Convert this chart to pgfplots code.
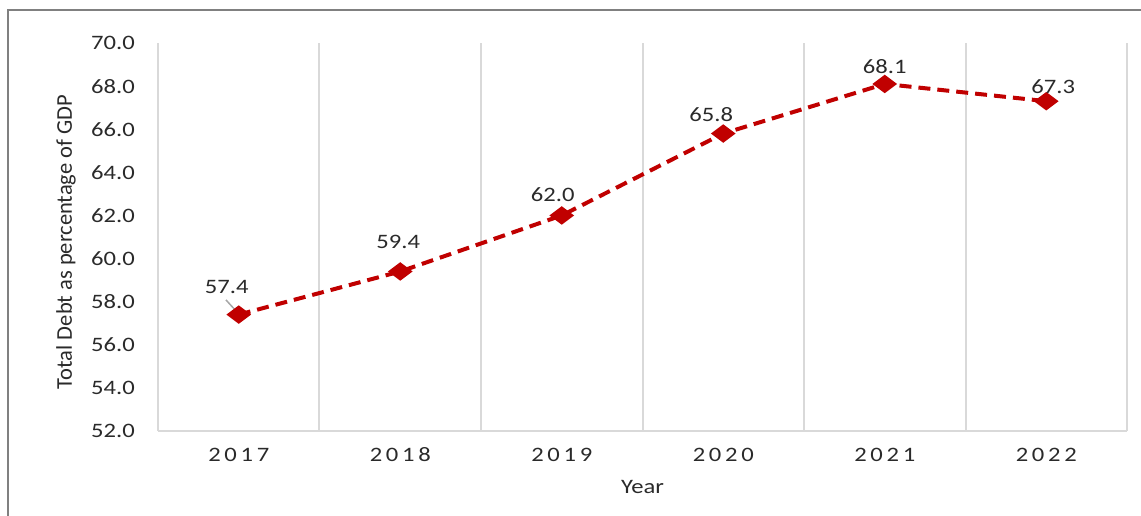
\documentclass[border=0pt]{standalone}
\usepackage{pgfplots}
\usepackage{pgfplotstable}
\pgfplotsset{compat=1.18}
\usepackage{fontspec}
\setmainfont{Carlito}[FakeStretch=1.2]
\newfontfamily\ylabfont{Carlito}
\newfontfamily\yearfont{Carlito}[FakeStretch=1.2,LetterSpace=18]
\definecolor{gridgray}{HTML}{D9D9D9}
\definecolor{framegray}{HTML}{808080}
\definecolor{txt}{HTML}{2A2A2A}
\definecolor{leadgray}{HTML}{A6A6A6}
\definecolor{linered}{HTML}{C00000}

\pgfplotstableread{
x y dx dy
0 57.4 -12 28
1 59.4 -2 30
2 62.0 -9 21
3 65.8 -12 19
4 68.1 0 17
5 67.3 7 15
}\debtdata

\begin{document}
\begin{tikzpicture}
\path[use as bounding box] (-158pt,-85pt) rectangle (983pt,431pt);
\draw[framegray, line width=2pt] (-150pt,-90pt) -- (-150pt,421pt) -- (990pt,421pt);
\begin{axis}[
  scale only axis,
  width=969pt, height=388pt,
  xmin=-0.5, xmax=5.5, ymin=52, ymax=70,
  axis x line=bottom, axis y line=left,
  axis line style={draw=gridgray, line width=2pt, -},
  xtick={0,1,2,3,4,5},
  xticklabels={2017,2018,2019,2020,2021,2022},
  minor xtick={-0.5,0.5,1.5,2.5,3.5,4.5,5.5},
  xminorgrids,
  minor grid style={draw=gridgray, line width=2pt},
  major tick length=0pt, minor tick length=0pt,
  ytick={52,54,...,70},
  yticklabel style={/pgf/number format/fixed, /pgf/number format/fixed zerofill, /pgf/number format/precision=1},
  /pgf/number format/assume math mode=true,
  xticklabel style={font=\yearfont\fontsize{20.5}{24}\selectfont, text=txt, anchor=center, yshift=-24pt},
  yticklabel style={font=\fontsize{20.5}{24}\selectfont, text=txt, anchor=east, inner sep=0pt, xshift=-23pt},
  xlabel={Year},
  xlabel style={font=\fontsize{20.5}{24}\selectfont, text=txt, at={(axis description cs:0.5,0)}, anchor=center, yshift=-56pt},
  ylabel={Total Debt as percentage of GDP},
  ylabel style={font=\ylabfont\fontsize{22.5}{26}\selectfont, text=txt, at={(axis description cs:0,0.5)}, anchor=center, yshift=92pt, xshift=-5pt},
  clip=false,
]
\draw[leadgray, line width=1.5pt] (axis cs:-0.079,58.08) -- (axis cs:-0.017,57.57);
\addplot[
  color=linered, line width=4pt, dash pattern=on 12pt off 7pt,
  mark=diamond*, mark size=9pt,
  mark options={solid, rotate=90, fill=linered, draw=none},
  point meta=y,
  visualization depends on={\thisrow{dx} \as \dx},
  visualization depends on={\thisrow{dy} \as \dy},
  nodes near coords={\pgfmathprintnumber[fixed,fixed zerofill,precision=1]{\pgfplotspointmeta}},
  every node near coord/.append style={anchor=center, xshift=\dx pt, yshift=\dy pt, text=txt, font=\fontsize{20.5}{24}\selectfont},
] table[x=x, y=y] {\debtdata};
\end{axis}
\end{tikzpicture}
\end{document}
